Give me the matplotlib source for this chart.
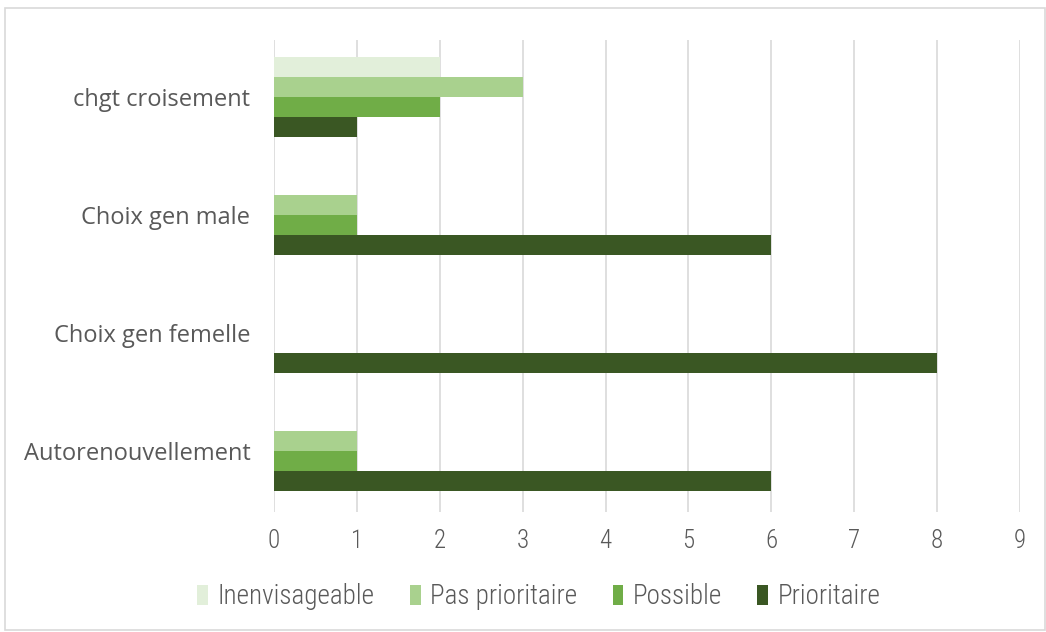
import matplotlib
matplotlib.use("Agg")
import matplotlib.pyplot as plt
from matplotlib.patches import Rectangle
import numpy as np

categories = ["Autorenouvellement", "Choix gen femelle", "Choix gen male", "chgt croisement"]
series_names = ["Prioritaire", "Possible", "Pas prioritaire", "Inenvisageable"]
prioritaire = [6, 8, 6, 1]
possible = [1, 0, 1, 2]
pas_prioritaire = [1, 0, 1, 3]
inenvisageable = [0, 0, 0, 2]
xticks = [0, 1, 2, 3, 4, 5, 6, 7, 8, 9]

colors = ["#3A5723", "#70AD47", "#A9D18E", "#E2EFDA"]

plt.rcParams['font.family'] = ["Roboto Condensed", "DejaVu Sans"]
plt.rcParams['font.weight'] = 300

fig = plt.figure(figsize=(10.46, 6.32), dpi=100)
ax = fig.add_axes([274/1046, 1 - 512/632, (1020 - 274)/1046, (512 - 40)/632])

y = np.arange(len(categories))
h = 0.17
data = [prioritaire, possible, pas_prioritaire, inenvisageable]
offsets = [-1.5 * h, -0.5 * h, 0.5 * h, 1.5 * h]
for vals, off, c, n in zip(data, offsets, colors, series_names):
    ax.barh(y + off + 0.02, vals, height=h, color=c, label=n, zorder=3, linewidth=0)

ax.set_xlim(0, 9)
ax.set_ylim(-0.5, 3.5)
ax.set_xticks(xticks)
ax.set_yticks(y + 0.02)
ax.set_yticklabels(categories, family=["Open Sans", "DejaVu Sans"], fontweight=400, fontsize=17)
ax.xaxis.grid(True, color="#D9D9D9", linewidth=1.2, zorder=0)
ax.set_axisbelow(True)
for s in ax.spines.values():
    s.set_visible(False)
ax.tick_params(axis="both", length=0, colors="#595959")
ax.tick_params(axis="x", pad=12, labelsize=18)
ax.tick_params(axis="y", pad=17)

handles, labels = ax.get_legend_handles_labels()
order = [3, 2, 1, 0]
leg = fig.legend([handles[i] for i in order], [labels[i] for i in order],
                 loc="center", bbox_to_anchor=(539/1046, 1 - 597/632), ncol=4,
                 frameon=False, fontsize=19.5, handlelength=0.4, handleheight=0.75,
                 handletextpad=0.35, columnspacing=1.3)
for t in leg.get_texts():
    t.set_color("#595959")

fig.patches.append(Rectangle((5/1046, 1 - 630/632), 1040/1046, 622/632, transform=fig.transFigure,
                             fill=False, edgecolor="#D9D9D9", linewidth=1.2))

fig.savefig("out.png", dpi=100)
